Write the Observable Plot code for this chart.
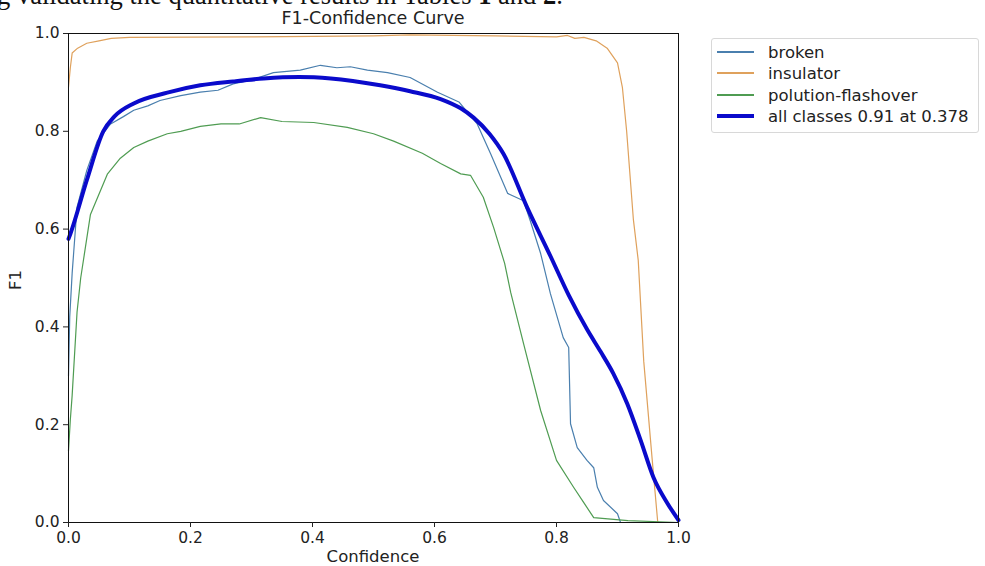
<!DOCTYPE html>
<html>
<head>
<meta charset="utf-8">
<script src="https://cdn.jsdelivr.net/npm/d3@7"></script>
<script src="https://cdn.jsdelivr.net/npm/@observablehq/plot@0.6"></script>
<style>
  html, body { margin: 0; padding: 0; background: #fff; }
  #wrap { position: relative; width: 985px; height: 566px; overflow: hidden; font-family: "DejaVu Sans", sans-serif; }
  #chart { position: absolute; left: 0; top: 0; }
  .abs { position: absolute; white-space: nowrap; }
  #toptext { left: -3px; top: -19px; font-family: "Liberation Serif", serif; font-size: 26.5px; line-height: 28px; color: #111; }
  #title { left: 373px; top: 8px; transform: translateX(-50%); font-size: 17.5px; line-height: 20px; color: #222; }
  #xlabel { left: 373px; top: 547px; transform: translateX(-50%); font-size: 16.5px; line-height: 19px; color: #222; }
  #ylabel { left: 15px; top: 280px; transform: translate(-50%, -50%) rotate(-90deg); font-size: 16.5px; color: #222; }
  #legend { left: 711px; top: 38px; width: 268px; height: 95px; border: 1px solid #d8d8d8; border-radius: 3px; box-sizing: border-box; background: #fff; }
  .row { position: absolute; left: 0; height: 20px; }
  .swatch { position: absolute; left: 5px; width: 37px; top: 50%; }
  .lab { position: absolute; left: 56px; top: 50%; transform: translateY(-50%); font-size: 16.5px; color: #222; }
</style>
</head>
<body>
<div id="wrap">
  <div id="chart"></div>
  <div id="toptext" class="abs">g validating the quantitative results in Tables <b>1</b> and <b>2</b>.</div>
  <div id="title" class="abs">F1-Confidence Curve</div>
  <div id="xlabel" class="abs">Confidence</div>
  <div id="ylabel" class="abs">F1</div>
  <div id="legend" class="abs"></div>
</div>
<script>
// ---- data ----
const seriesNames = ["broken", "insulator", "polution-flashover", "all classes 0.91 at 0.378"];
const seriesColors = ["#4a7fae", "#dfa15c", "#4f9c52", "#0a0acb"];

const brokenX = [0, 0.002, 0.006, 0.014, 0.03, 0.047, 0.069, 0.09, 0.107, 0.13, 0.15, 0.184, 0.216, 0.245, 0.27, 0.30, 0.336, 0.38, 0.413, 0.44, 0.462, 0.49, 0.523, 0.56, 0.605, 0.64, 0.67, 0.692, 0.72, 0.746, 0.757, 0.774, 0.79, 0.811, 0.82, 0.823, 0.834, 0.85, 0.861, 0.867, 0.877, 0.9, 0.905, 1.0];
const brokenY = [0.30, 0.42, 0.51, 0.645, 0.72, 0.78, 0.815, 0.83, 0.843, 0.852, 0.863, 0.873, 0.88, 0.884, 0.897, 0.905, 0.92, 0.925, 0.935, 0.93, 0.932, 0.925, 0.92, 0.91, 0.88, 0.86, 0.815, 0.754, 0.673, 0.658, 0.617, 0.55, 0.468, 0.378, 0.358, 0.202, 0.153, 0.127, 0.112, 0.072, 0.045, 0.018, 0.0, 0.0];

const insulatorX = [0, 0.003, 0.006, 0.015, 0.03, 0.05, 0.07, 0.1, 0.3, 0.5, 0.56, 0.7, 0.8, 0.818, 0.83, 0.845, 0.865, 0.883, 0.9, 0.908, 0.915, 0.926, 0.934, 0.943, 0.957, 0.966, 1.0];
const insulatorY = [0.89, 0.93, 0.96, 0.97, 0.98, 0.985, 0.99, 0.992, 0.993, 0.995, 0.997, 0.995, 0.993, 0.996, 0.99, 0.992, 0.985, 0.97, 0.94, 0.89, 0.80, 0.62, 0.536, 0.33, 0.127, 0.0, 0.0];

const flashoverX = [0, 0.003, 0.006, 0.014, 0.02, 0.036, 0.064, 0.085, 0.107, 0.13, 0.162, 0.184, 0.216, 0.25, 0.28, 0.315, 0.35, 0.402, 0.457, 0.5, 0.533, 0.58, 0.61, 0.643, 0.659, 0.68, 0.697, 0.715, 0.725, 0.746, 0.774, 0.80, 0.828, 0.845, 0.861, 0.917, 1.0];
const flashoverY = [0.147, 0.21, 0.26, 0.43, 0.50, 0.63, 0.713, 0.745, 0.767, 0.78, 0.795, 0.80, 0.81, 0.815, 0.815, 0.828, 0.82, 0.818, 0.808, 0.795, 0.78, 0.755, 0.734, 0.713, 0.71, 0.665, 0.603, 0.53, 0.47, 0.366, 0.229, 0.127, 0.072, 0.04, 0.01, 0.004, 0.0];

const allX = [0, 0.003, 0.03, 0.057, 0.075, 0.107, 0.162, 0.216, 0.27, 0.32, 0.378, 0.43, 0.511, 0.56, 0.61, 0.643, 0.664, 0.69, 0.713, 0.752, 0.79, 0.82, 0.85, 0.872, 0.893, 0.916, 0.938, 0.959, 0.982, 1.0];
const allY = [0.58, 0.59, 0.70, 0.80, 0.83, 0.857, 0.879, 0.894, 0.902, 0.908, 0.911, 0.908, 0.894, 0.882, 0.866, 0.847, 0.828, 0.795, 0.754, 0.644, 0.545, 0.465, 0.395, 0.35, 0.305, 0.243, 0.168, 0.092, 0.039, 0.005];

const xTicks = [0, 0.2, 0.4, 0.6, 0.8, 1.0];
const yTicks = [0, 0.2, 0.4, 0.6, 0.8, 1.0];

// ---- build tables ----
const toRows = (xs, ys, name) => xs.map((x, i) => ({conf: x, f1: ys[i], series: name}));
const broken = toRows(brokenX, brokenY, seriesNames[0]);
const insulator = toRows(insulatorX, insulatorY, seriesNames[1]);
const flashover = toRows(flashoverX, flashoverY, seriesNames[2]);
const all = toRows(allX, allY, seriesNames[3]);

const fmt = d3.format(".1f");
const chart = Plot.plot({
  width: 985,
  height: 566,
  marginLeft: 68,
  marginRight: 307,
  marginTop: 33,
  marginBottom: 44,
  style: {fontFamily: "DejaVu Sans, sans-serif", fontSize: "15.5px", color: "#222", background: "transparent"},
  x: {domain: [0, 1], label: null},
  y: {domain: [0, 1], label: null},
  marks: [
    Plot.line(broken, {x: "conf", y: "f1", stroke: seriesColors[0], strokeWidth: 1.2}),
    Plot.line(insulator, {x: "conf", y: "f1", stroke: seriesColors[1], strokeWidth: 1.2}),
    Plot.line(flashover, {x: "conf", y: "f1", stroke: seriesColors[2], strokeWidth: 1.2}),
    Plot.line(all, {x: "conf", y: "f1", stroke: seriesColors[3], strokeWidth: 4, curve: "monotone-x"}),
    Plot.frame({stroke: "#111", strokeWidth: 1}),
    Plot.axisX({ticks: xTicks, tickFormat: fmt, tickSize: 5, tickPadding: 4, label: null, fontSize: 15.5}),
    Plot.axisY({ticks: yTicks, tickFormat: fmt, tickSize: 5, tickPadding: 4, label: null, fontSize: 15.5})
  ]
});
document.getElementById("chart").appendChild(chart);

// ---- legend ----
const legend = document.getElementById("legend");
const rowTops = [3, 24, 46, 67];
seriesNames.forEach((name, i) => {
  const row = document.createElement("div");
  row.className = "row";
  row.style.top = rowTops[i] + "px";
  row.style.width = "100%";
  const sw = document.createElement("div");
  sw.className = "swatch";
  const w = i === 3 ? 4 : 1.3;
  sw.style.height = w + "px";
  sw.style.marginTop = (-w / 2) + "px";
  sw.style.background = seriesColors[i];
  const lab = document.createElement("div");
  lab.className = "lab";
  lab.textContent = name;
  row.appendChild(sw);
  row.appendChild(lab);
  legend.appendChild(row);
});
</script>
</body>
</html>
